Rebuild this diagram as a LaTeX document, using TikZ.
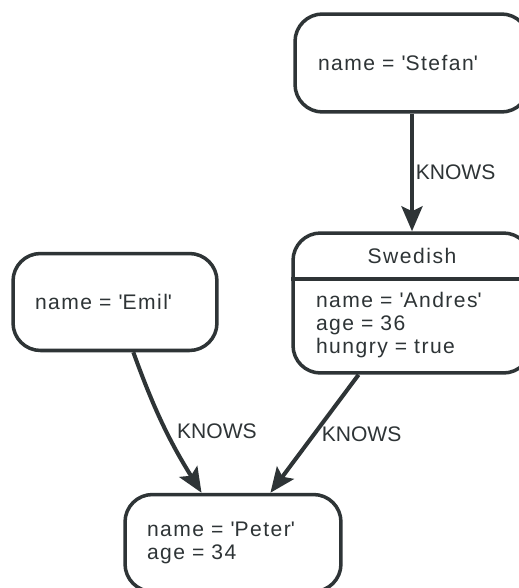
\documentclass[tikz,border=0pt]{standalone}
\usepackage{fontspec}
\setsansfont{Liberation Sans}
\newfontfamily\propfont[LetterSpace=7]{Liberation Sans}
\usetikzlibrary{arrows.meta, positioning, calc}
\definecolor{ink}{HTML}{2E3436}
\newcommand{\q}{\textquotesingle}

\begin{document}
\begin{tikzpicture}[x=0.02cm, y=-0.02cm,
  box/.style={rectangle, draw=ink, line width=2pt, rounded corners=0.55cm,
  fill=white, inner sep=0pt, align=left, text=ink,
  font=\propfont\fontsize{12}{13}\selectfont},
  props/.style={inner sep=0pt, align=left, text=ink,
  font=\propfont\fontsize{12}{13}\selectfont},
  rel/.style={draw=ink, line width=2.3pt, -{Stealth[length=0.5cm, width=0.42cm, inset=0.1cm]}},
  lbl/.style={font=\sffamily\fontsize{12}{13}\selectfont, text=ink, inner sep=2pt}]
  \fill[white] (0,0) rectangle (518,588);
  \useasboundingbox (0,0) rectangle (518,588);

  \node[box, minimum width=4.68cm, minimum height=1.96cm, text width=3.76cm] (stefan) at (412,63) {name = \q Stefan\q};
  \node[box, minimum width=4.08cm, minimum height=1.94cm, text width=3.2cm] (emil) at (115,302) {name = \q Emil\q};
  \node[box, minimum width=4.32cm, minimum height=1.94cm, text width=3.44cm] (peter) at (233,543) {name = \q Peter\q\\age = 34};

  % labelled node: header and property part
  \node[box, minimum width=4.76cm, minimum height=2.8cm] (andres) at (412,303) {};
  \node[props] (swedish) at (412,256) {Swedish};
  \coordinate (split) at (412,279);
  \draw[ink, line width=2pt] (split -| andres.west) -- (split -| andres.east);
  \node[props, text width=3.84cm] (andresprops) at (412,325) {name = \q Andres\q\\age = 36\\hungry = true};

  \draw[rel] (stefan) -- node[lbl, right, inner sep=1pt] {KNOWS} (andres);
  \draw[rel] (andres) -- node[lbl, right, inner sep=3pt] {KNOWS} (peter);
  \draw[rel] (emil) to[bend right=6] node[lbl, pos=0.55, right, inner sep=5pt] {KNOWS} (peter);
\end{tikzpicture}
\end{document}
